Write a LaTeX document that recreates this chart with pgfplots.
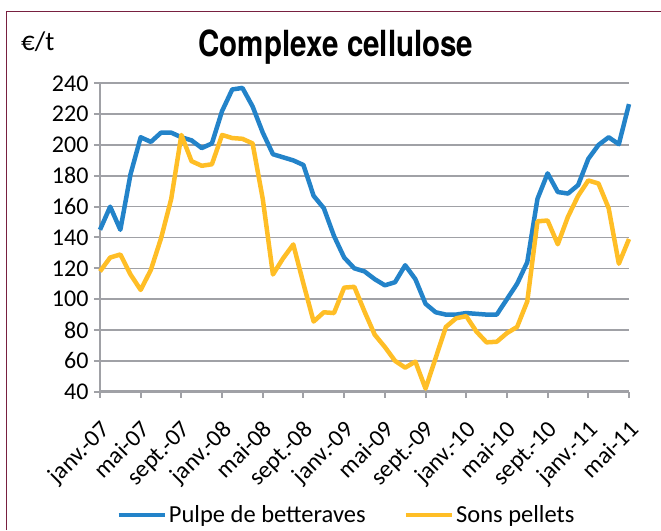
\documentclass[border=0pt]{standalone}
\usepackage{pgfplots}
\pgfplotsset{compat=1.18}
\usepackage{fontspec}
\setmainfont{Carlito}
\newfontfamily\titlefont[FakeStretch=0.82]{TeX Gyre Heros}
\definecolor{bluel}{RGB}{35,131,201}
\definecolor{yell}{RGB}{255,190,38}
\definecolor{gridg}{RGB}{160,161,166}
\definecolor{frame}{RGB}{120,32,64}
\begin{document}
\begin{tikzpicture}
\useasboundingbox (0pt,0pt) rectangle (661pt,530pt);
\draw[frame, line width=1pt] (6.5pt,0pt) -- (6.5pt,518pt) -- (665pt,518pt);
\node[anchor=base, inner sep=0pt, font=\titlefont\bfseries\fontsize{36}{40}\selectfont] at (336pt,473pt) {Complexe cellulose};
\node[anchor=base west, inner sep=0pt, font=\fontsize{27}{30}\selectfont] at (21pt,479pt) {€/t};
\begin{axis}[
  scale only axis,
  width=529pt, height=308.4pt,
  at={(100pt,138.3pt)}, anchor=south west,
  xmin=0, xmax=52, ymin=40, ymax=240,
  xtick={0,4,...,52},
  xticklabels={janv.-07, mai-07, sept.-07, janv.-08, mai-08, sept.-08, janv.-09, mai-09, sept.-09, janv.-10, mai-10, sept.-10, janv.-11, mai-11},
  ytick={40,60,...,240},
  axis lines=left,
  axis line style={-, gridg, line width=2.5pt},
  tick align=outside,
  major tick length=6pt,
  tick style={gridg, line width=2pt},
  ymajorgrids,
  major grid style={gridg, line width=1.6pt},
  tick label style={font=\fontsize{24}{28}\selectfont},
  /pgf/number format/assume math mode=true,
  xticklabel style={anchor=north east, yshift=-17pt, xshift=-1pt, rotate=45},
  yticklabel style={xshift=-2pt},
  legend columns=2,
  legend style={draw=none, fill=none, at={(0.025,-0.40)}, anchor=west,
    font=\fontsize{24.5}{28}\selectfont,
    /tikz/every even column/.append style={column sep=36pt}},
  legend image code/.code={\draw[#1, line width=4.5pt] (0pt,0pt) -- (46pt,0pt);},
  clip=false,
]
\addplot[bluel, line width=4.5pt, line join=round] coordinates {
(0,145) (1,160) (2,145) (3,181) (4,205) (5,202) (6,208) (7,208) (8,205) (9,203)
(10,198) (11,201) (12,222) (13,236) (14,237) (15,225) (16,208) (17,194) (18,192) (19,190)
(20,187) (21,167) (22,159) (23,141) (24,127) (25,120) (26,118) (27,113) (28,109) (29,111)
(30,122) (31,113) (32,97) (33,91.5) (34,90) (35,90) (36,91) (37,90.5) (38,90) (39,90)
(40,100) (41,110) (42,124) (43,165) (44,181.6) (45,169.5) (46,168.5) (47,174) (48,191) (49,200)
(50,205) (51,200.5) (52,226.5)
};
\addlegendentry{Pulpe de betteraves}
\addplot[yell, line width=4.5pt, line join=round] coordinates {
(0,118) (1,127) (2,129) (3,116) (4,106) (5,119) (6,139.5) (7,165) (8,206.5) (9,189.5)
(10,186.5) (11,187.5) (12,206.5) (13,204.5) (14,204) (15,201) (16,165) (17,116) (18,126.5) (19,135.5)
(20,110) (21,85.5) (22,91.5) (23,91) (24,107.5) (25,108) (26,92) (27,77) (28,69) (29,60)
(30,55.6) (31,59.5) (32,42) (33,62) (34,82) (35,87.6) (36,89) (37,79) (38,72) (39,72.4)
(40,78) (41,82) (42,98.5) (43,150.5) (44,151) (45,135.6) (46,153.5) (47,167) (48,177) (49,175)
(50,159) (51,123) (52,139)
};
\addlegendentry{Sons pellets}
\end{axis}
\end{tikzpicture}
\end{document}
